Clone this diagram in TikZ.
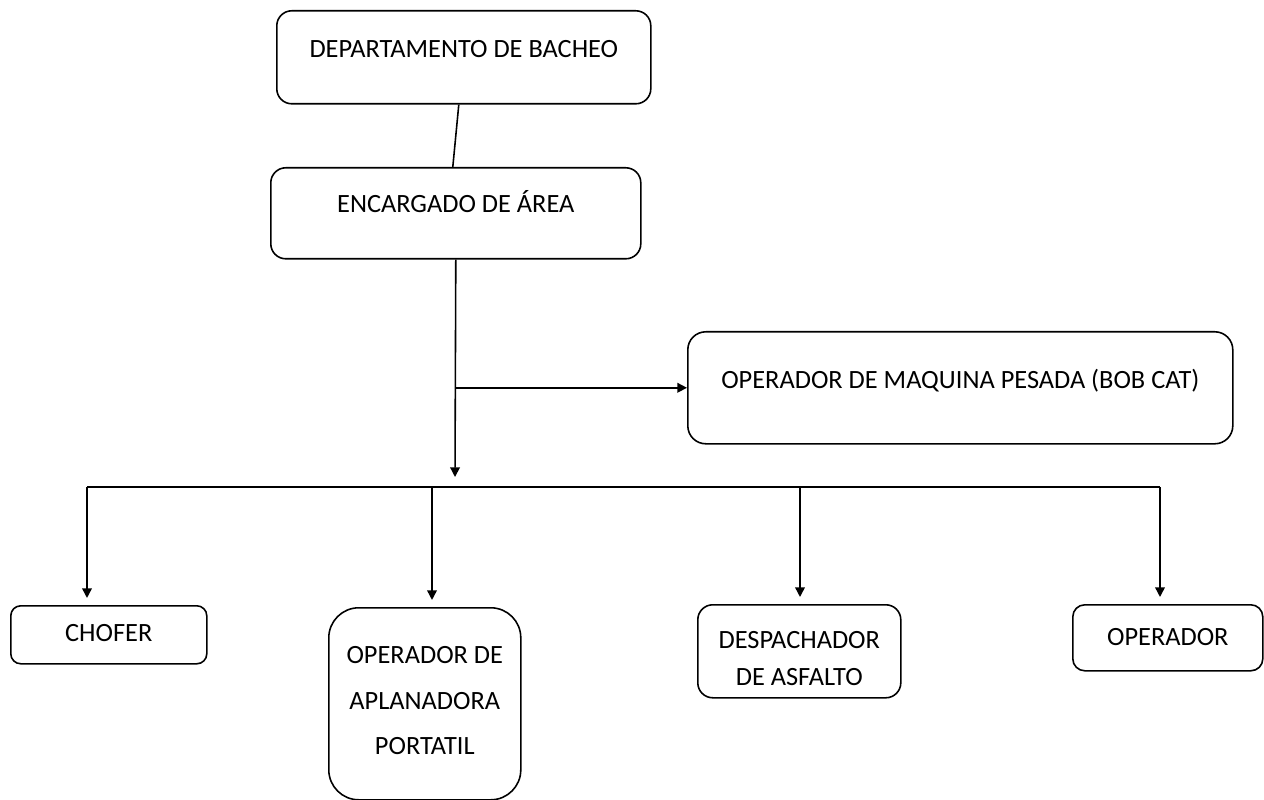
\documentclass[tikz,border=0pt]{standalone}
\usepackage{fontspec}
\setmainfont{Carlito}
\usetikzlibrary{arrows.meta, positioning, calc}
\newlength\pxu
\setlength\pxu{0.02cm}

\begin{document}
\begin{tikzpicture}[x=0.02cm, y=-0.02cm]

\tikzset{
caja/.style={
draw,
line width=0.9pt,
rounded corners=#1,
inner sep=0pt,
anchor=north west,
align=center,
font=\fontsize{15}{26}\selectfont
},
caja/.default=8pt,
flecha/.style={
-{Triangle[length=5.5pt, width=5.5pt]},
line width=0.9pt
}
}

\useasboundingbox (0,0) rectangle (1264,800);

\node[caja=15\pxu, minimum width=374\pxu, text height=47\pxu, text depth=46\pxu]
(dep) at (276,10) {DEPARTAMENTO DE BACHEO};

\node[caja=15\pxu, minimum width=370\pxu, text height=45\pxu, text depth=46\pxu]
(enc) at (270,167) {ENCARGADO DE ÁREA};

\node[caja=18\pxu, minimum width=545\pxu, text height=57\pxu, text depth=55\pxu]
(maq) at (687,331) {OPERADOR DE MAQUINA PESADA (BOB CAT)};

\node[caja=10\pxu, minimum width=196\pxu, text height=36\pxu, text depth=22\pxu]
(cho) at (10,605) {CHOFER};

\node[caja=30\pxu, minimum width=192\pxu, text height=147\pxu, text depth=45\pxu]
(apl) at (328,607) {OPERADOR DE\\APLANADORA\\PORTATIL};

\node[caja=15\pxu, minimum width=203\pxu, text height=81\pxu, text depth=12\pxu,
font=\fontsize{15}{21.5}\selectfont]
(des) at (697,604) {DESPACHADOR\\DE ASFALTO};

\node[caja=12\pxu, minimum width=190\pxu, text height=41\pxu, text depth=25\pxu]
(ope) at (1072,604) {OPERADOR};

% linea principal
\coordinate (fin) at (455,477);
\coordinate (b1) at (87,487);
\coordinate (b2) at (432,487);
\coordinate (b3) at (800,487);
\coordinate (b4) at (1160,487);

\draw[line width=0.9pt] ($(dep.south)+(-5,0)$) -- ($(enc.north)+(-3,0)$);
\draw[flecha] (enc.south) -- (fin);
\draw[flecha] (enc.south |- maq.west) -- (maq.west);

\draw[line width=0.9pt] (b1) -- (b4);
\draw[flecha, shorten >=4pt] (b1) -- (b1 |- cho.north);
\draw[flecha, shorten >=4pt] (b2) -- (b2 |- apl.north);
\draw[flecha, shorten >=4pt] (b3) -- (b3 |- des.north);
\draw[flecha, shorten >=4pt] (b4) -- (b4 |- ope.north);

\end{tikzpicture}
\end{document}
